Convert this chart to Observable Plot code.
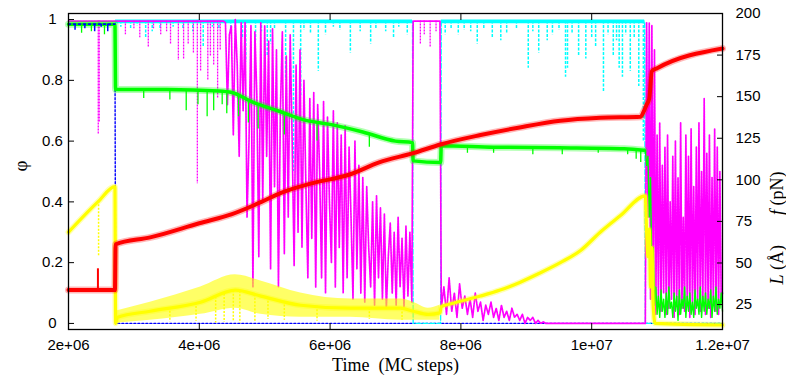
<!DOCTYPE html>
<html>
<head>
<meta charset="utf-8">
<script src="https://cdn.jsdelivr.net/npm/d3@7"></script>
<script src="https://cdn.jsdelivr.net/npm/@observablehq/plot@0.6"></script>
<style>
  html, body { margin: 0; padding: 0; background: #fff; }
</style>
</head>
<body>
<div id="chart"></div>
<script>
// Time is given in units of 1e6 MC steps.
// φ series use the left axis; L (Å) and f (pN) use the right axis.

// ---- axis ticks ----
const xTicks = [2e6, 4e6, 6e6, 8e6, 1e7, 1.2e7];
const xTickLabels = ["2e+06", "4e+06", "6e+06", "8e+06", "1e+07", "1.2e+07"];
const phiTicks = [0, 0.2, 0.4, 0.6, 0.8, 1];
const rightTicks = [25, 50, 75, 100, 125, 150, 175, 200];

// ---- L (Å), red ----
const redT = [2.0, 2.71, 2.72, 3.25, 4.0, 4.5, 4.95, 5.25, 5.7, 6.3, 6.75, 7.27, 7.7, 8.3, 8.9, 9.52, 10.13, 10.75, 10.80, 10.84, 10.88, 10.92, 11.0, 12.0];
const redL = [33.7, 33.7, 61.2, 65.4, 73.9, 79.4, 86.7, 92.2, 97.7, 103.2, 110.5, 116.0, 121.4, 126.9, 131.5, 135.5, 137.3, 137.9, 141.5, 145.2, 148.8, 165.3, 167.1, 179.0];
const redSpikeT = [2.45];
const redSpikeL = [46.5];

// ---- f (pN), yellow ----
const yellowT = [2.0, 2.45, 2.71, 2.72, 2.75, 3.25, 4.02, 4.55, 4.94, 5.55, 6.31, 7.08, 7.27, 7.5, 7.68, 7.70, 7.85, 8.3, 8.6, 8.9, 9.2, 9.52, 9.83, 10.13, 10.44, 10.82, 10.84, 10.86, 10.88, 10.90, 10.92, 10.94, 10.97, 12.0];
const yellowF = [68.5, 86.7, 95.9, 13.7, 17.3, 21.0, 26.4, 33.7, 30.1, 24.6, 22.8, 22.8, 21.0, 19.1, 20.0, 23.7, 25.5, 30.1, 33.7, 38.3, 43.8, 50.2, 57.5, 68.5, 78.5, 90.4, 68.5, 53.8, 70.3, 35.6, 59.3, 24.6, 13.7, 12.7];
// spread of the noisy stretch
const yellowBandT = [2.72, 3.25, 4.02, 4.55, 4.94, 5.55, 6.31, 7.08, 7.27, 7.5, 7.68];
const yellowBandLo = [13.7, 15.5, 19.1, 22.8, 19.1, 17.3, 17.3, 15.5, 15.5, 15.5, 15.5];
const yellowBandHi = [21.0, 26.4, 35.6, 42.9, 39.2, 31.9, 28.3, 28.3, 26.4, 22.8, 24.6];
const yellowSpikeT = [2.46, 3.55, 3.95, 4.25, 4.38, 4.52, 4.62, 4.85, 5.05, 5.3, 5.8, 6.6, 7.1];
const yellowSpikeF = [53.8, 14.5, 15.0, 13.9, 14.2, 15.0, 13.8, 14.5, 16.0, 15.5, 15.0, 16.0, 15.5];

// ---- φ, green ----
const greenT = [2.0, 2.71, 2.72, 3.5, 4.3, 4.5, 4.8, 5.2, 5.6, 6.0, 6.5, 7.0, 7.26, 7.27, 7.69, 7.70, 8.5, 9.5, 10.5, 10.80];
const greenPhi = [0.985, 0.985, 0.77, 0.77, 0.765, 0.76, 0.73, 0.70, 0.67, 0.655, 0.63, 0.60, 0.595, 0.535, 0.53, 0.585, 0.58, 0.578, 0.575, 0.57];
const greenSpikeT = [2.2, 2.35, 2.55, 3.15, 3.55, 3.80, 3.98, 4.12, 4.22, 4.35, 4.42, 4.6, 4.75, 4.9, 5.3, 5.8, 6.6, 8.1, 8.5, 9.1, 9.55, 10.1, 10.55, 10.68, 10.75];
const greenSpikePhi = [0.955, 0.96, 0.95, 0.74, 0.735, 0.70, 0.72, 0.68, 0.70, 0.72, 0.69, 0.68, 0.66, 0.64, 0.62, 0.60, 0.58, 0.56, 0.56, 0.555, 0.555, 0.56, 0.555, 0.54, 0.53];
// after t = 1.082e7, sampled every 0.02e6
const greenTail = [
  0.57, 0.52, 0.55, 0.35, 0.48, 0.15, 0.25, 0.06, 0.12, 0.03,
  0.09, 0.02, 0.11, 0.04, 0.08, 0.02, 0.10, 0.03, 0.12, 0.05,
  0.07, 0.02, 0.10, 0.04, 0.09, 0.01, 0.11, 0.03, 0.08, 0.05,
  0.12, 0.02, 0.09, 0.04, 0.10, 0.03, 0.07, 0.02, 0.11, 0.05,
  0.08, 0.03, 0.12, 0.02, 0.09, 0.04, 0.10, 0.03, 0.08, 0.05,
  0.11, 0.02, 0.09, 0.04, 0.12, 0.03, 0.08, 0.05, 0.10, 0.04];

// ---- φ, cyan ----
const cyanT = [2.72, 7.26, 7.27, 7.69, 7.70, 10.81, 10.82, 12.0];
const cyanPhi = [0.995, 0.995, 0.0, 0.0, 0.995, 0.995, 0.0, 0.0];
const cyanSpikeT = [
  2.8, 2.95, 3.05, 3.18, 3.28, 3.4, 3.6, 3.75, 3.9, 4.06, 4.2, 4.3, 4.48, 4.55, 4.66, 4.71, 4.86, 4.95,
  5.04, 5.09, 5.15, 5.32, 5.44, 5.55, 5.6, 5.7, 5.82, 5.93, 6.05, 6.15, 6.31, 6.46, 6.62, 6.7, 6.85,
  6.97, 7.05, 7.18, 7.76, 7.85, 7.96, 8.05, 8.15, 8.25, 8.35, 8.48, 8.61, 8.7, 8.85, 9.03, 9.1, 9.19,
  9.32, 9.4, 9.5, 9.60, 9.63, 9.7, 9.80, 9.91, 10.0, 10.06, 10.18, 10.25, 10.33, 10.38, 10.42, 10.47,
  10.52, 10.59, 10.65, 10.72, 10.79];
const cyanSpikePhi = [
  0.975, 0.97, 0.98, 0.94, 0.96, 0.965, 0.975, 0.97, 0.96, 0.91, 0.975, 0.965, 0.96, 0.97, 0.94, 0.86, 0.93, 0.96,
  0.88, 0.92, 0.97, 0.80, 0.50, 0.75, 0.965, 0.955, 0.83, 0.95, 0.975, 0.965, 0.89, 0.96, 0.92, 0.97, 0.96,
  0.94, 0.975, 0.95, 0.95, 0.97, 0.95, 0.965, 0.96, 0.92, 0.97, 0.94, 0.93, 0.955, 0.97, 0.84, 0.96, 0.89,
  0.93, 0.95, 0.965, 0.81, 0.84, 0.955, 0.88, 0.87, 0.94, 0.91, 0.76, 0.95, 0.88, 0.93, 0.84, 0.81,
  0.95, 0.83, 0.94, 0.78, 0.60];

// ---- φ, blue ----
const blueT = [2.0, 2.71, 2.72, 12.0];
const bluePhi = [0.985, 0.985, 0.0, 0.0];
const blueSpikeT = [2.1, 2.25, 2.4, 2.5, 2.6];
const blueSpikePhi = [0.965, 0.97, 0.96, 0.975, 0.96];

// ---- φ, magenta ----
const magHeadT = [2.0, 4.37];
const magHeadPhi = [0.995, 0.995];
// 4.40 … 7.25, every 0.03e6
const magBurst = [
  0.99, 0.72, 0.95, 0.98, 0.62, 1.0, 0.85, 0.55, 0.99, 0.70,
  0.99, 0.35, 0.60, 0.98, 0.12, 0.96, 0.75, 0.22, 0.99, 0.40,
  0.98, 0.55, 0.93, 0.18, 0.97, 0.45, 0.90, 0.12, 0.70, 0.96,
  0.23, 0.88, 0.35, 0.95, 0.60, 0.19, 0.85, 0.30, 0.90, 0.25,
  0.80, 0.45, 0.15, 0.74, 0.28, 0.76, 0.12, 0.72, 0.50, 0.15,
  0.73, 0.10, 0.68, 0.40, 0.20, 0.70, 0.12, 0.66, 0.25, 0.62,
  0.10, 0.65, 0.15, 0.58, 0.35, 0.08, 0.60, 0.18, 0.52, 0.10,
  0.48, 0.07, 0.45, 0.25, 0.12, 0.40, 0.06, 0.42, 0.15, 0.38,
  0.08, 0.36, 0.05, 0.22, 0.33, 0.10, 0.30, 0.06, 0.35, 0.12,
  0.28, 0.05, 0.32, 0.09, 0.30, 0.07];
const magHoldT = [7.27, 7.68];
const magHoldPhi = [0.995, 0.995];
// 7.70 … 9.26, every 0.04e6
const magDecay = [
  0.05, 0.12, 0.03, 0.15, 0.04, 0.10, 0.02, 0.13, 0.05, 0.09,
  0.03, 0.08, 0.02, 0.10, 0.04, 0.07, 0.01, 0.06, 0.03, 0.07,
  0.02, 0.05, 0.01, 0.06, 0.02, 0.04, 0.01, 0.05, 0.02, 0.03,
  0.01, 0.03, 0.0, 0.02, 0.01, 0.02, 0.0, 0.01, 0.0, 0.005];
const magRestT = [9.30, 10.82];
const magRestPhi = [0.0, 0.0];
// 10.84 … 11.98, every 0.02e6
const magLate = [
  0.99, 0.35, 0.99, 0.08, 0.98, 0.04, 0.90, 0.03, 0.62, 0.06,
  0.66, 0.04, 0.52, 0.10, 0.58, 0.03, 0.62, 0.05, 0.40, 0.08,
  0.55, 0.02, 0.60, 0.06, 0.48, 0.03, 0.66, 0.05, 0.35, 0.04,
  0.62, 0.07, 0.55, 0.02, 0.64, 0.05, 0.45, 0.03, 0.58, 0.06,
  0.66, 0.04, 0.50, 0.08, 0.74, 0.03, 0.56, 0.05, 0.62, 0.02,
  0.48, 0.06, 0.64, 0.04, 0.58, 0.03, 0.50, 0.08];
const magEndT = [12.0];
const magEndPhi = [0.10];
const magDipT = [2.455, 2.47, 2.87, 3.0, 3.09, 3.22, 3.3, 3.41, 3.5, 3.56, 3.68, 3.76, 3.83, 3.91, 3.97, 4.02, 4.13, 4.17, 4.22, 4.28, 4.32, 7.38, 7.44, 7.53, 7.62];
const magDipPhi = [0.62, 0.66, 0.95, 0.97, 0.94, 0.91, 0.97, 0.95, 0.96, 0.92, 0.865, 0.87, 0.92, 0.89, 0.46, 0.83, 0.80, 0.88, 0.85, 0.74, 0.90, 0.92, 0.95, 0.91, 0.96];

// ---------------------------------------------------------------
const M = 1e6;
const rows = (T, V) => T.map((t, i) => ({t: t * M, v: V[i]}));
const grid = (t0, dt, V) => V.map((v, i) => ({t: (t0 + i * dt) * M, v}));
const toPhi = d3.scaleLinear().domain([10, 200]).range([-0.02, 1.02]); // right axis -> left axis
const lerp = (T, V) => d3.scaleLinear().domain(T).range(V);

const red = rows(redT, redL).map(d => ({t: d.t, v: toPhi(d.v)}));
const redAt = lerp(redT, redL);
const redSpikes = redSpikeT.map((t, i) => ({t: t * M, a: toPhi(redAt(t)), b: toPhi(redSpikeL[i])}));

const yellow = rows(yellowT, yellowF).map(d => ({t: d.t, v: toPhi(d.v)}));
const yellowBand = yellowBandT.map((t, i) => ({t: t * M, lo: toPhi(yellowBandLo[i]), hi: toPhi(yellowBandHi[i])}));
const yellowAt = lerp(yellowT, yellowF);
const yellowSpikes = yellowSpikeT.map((t, i) => ({t: t * M, a: toPhi(yellowAt(t)), b: toPhi(yellowSpikeF[i])}));

const green = rows(greenT, greenPhi);
const greenAt = lerp(greenT, greenPhi);
const greenSpikes = greenSpikeT.map((t, i) => ({t: t * M, a: greenAt(t), b: greenSpikePhi[i]}));
const greenEnd = grid(10.82, 0.02, greenTail);

const cyan = rows(cyanT, cyanPhi);
let seg = 0;
const cyanTop = cyan.map((d, i) => {
  if (i > 0 && cyanPhi[i] !== cyanPhi[i - 1]) seg++;
  return {...d, seg};
}).filter(d => d.v > 0.5);
const cyanSpikes = cyanSpikeT.map((t, i) => ({t: t * M, a: 0.995, b: cyanSpikePhi[i]}));

const blue = rows(blueT, bluePhi);
const blueSpikes = blueSpikeT.map((t, i) => ({t: t * M, a: 0.985, b: blueSpikePhi[i]}));

const magenta = [
  ...rows(magHeadT, magHeadPhi),
  ...grid(4.40, 0.03, magBurst),
  ...rows(magHoldT, magHoldPhi),
  ...grid(7.70, 0.04, magDecay),
  ...rows(magRestT, magRestPhi),
  ...grid(10.84, 0.02, magLate),
  ...rows(magEndT, magEndPhi)
];
const magDips = magDipT.map((t, i) => ({t: t * M, a: 0.995, b: magDipPhi[i]}));

const C = {red: "#ff0000", green: "#00ff00", cyan: "#00ffff", magenta: "#ff00ff", yellow: "#ffff00", blue: "#0000ff"};
const spikes = (data, stroke, opts = {}) => Plot.ruleX(data, {x: "t", y1: "a", y2: "b", stroke, strokeWidth: 1.4, ...opts});
const serif = "Liberation Serif, Times New Roman, serif";
const rightLabel = "L (Å) f (pN)";

const chart = Plot.plot({
  width: 786,
  height: 383,
  marginLeft: 68,
  marginRight: 64,
  marginTop: 13,
  marginBottom: 54,
  style: {fontFamily: "Liberation Sans, Arial, sans-serif", fontSize: "15px", background: "#fff", color: "#000"},
  x: {type: "linear", domain: [2e6, 1.2e7]},
  y: {domain: [-0.02, 1.02]},
  marks: [
    // blue
    Plot.line(blue, {x: "t", y: "v", stroke: C.blue, strokeWidth: 1.4, strokeDasharray: "2,2"}),
    // cyan
    Plot.areaY(cyanTop, {x: "t", y1: d => d.v - 0.009, y2: d => d.v + 0.004, z: "seg", fill: C.cyan}),
    Plot.line(cyan, {x: "t", y: "v", stroke: C.cyan, strokeWidth: 1.3, strokeDasharray: "5,2"}),
    spikes(cyanSpikes, C.cyan, {strokeWidth: 1.5, strokeDasharray: "3,1.5"}),
    // magenta
    Plot.line(magenta, {x: "t", y: "v", stroke: C.magenta, strokeWidth: 1.7, strokeDasharray: "2,0.8"}),
    spikes(magDips, C.magenta, {strokeWidth: 1.3, strokeDasharray: "2,1"}),
    // green
    Plot.line(green, {x: "t", y: "v", stroke: C.green, strokeWidth: 7, strokeOpacity: 0.3, curve: "monotone-x"}),
    Plot.line(green, {x: "t", y: "v", stroke: C.green, strokeWidth: 3.5, curve: "monotone-x"}),
    spikes(greenSpikes, C.green, {strokeWidth: 1.3}),
    Plot.line(greenEnd, {x: "t", y: "v", stroke: C.green, strokeWidth: 1.4}),
    // blue noise at the top
    Plot.line(blue.slice(0, 2), {x: "t", y: "v", stroke: C.blue, strokeWidth: 1.6, strokeDasharray: "2,3"}),
    spikes(blueSpikes, C.blue, {strokeWidth: 1.5}),
    // yellow
    Plot.areaY(yellowBand, {x: "t", y1: "lo", y2: "hi", fill: C.yellow, fillOpacity: 0.6, curve: "monotone-x"}),
    Plot.line(yellow, {x: "t", y: "v", stroke: C.yellow, strokeWidth: 6, strokeOpacity: 0.3, curve: "monotone-x"}),
    Plot.line(yellow, {x: "t", y: "v", stroke: C.yellow, strokeWidth: 3.2, curve: "monotone-x"}),
    spikes(yellowSpikes, C.yellow, {strokeWidth: 1.5, strokeDasharray: "2,1.5"}),
    // red
    Plot.line(red, {x: "t", y: "v", stroke: C.red, strokeWidth: 7, strokeOpacity: 0.28, curve: "monotone-x"}),
    Plot.line(red, {x: "t", y: "v", stroke: C.red, strokeWidth: 4, curve: "monotone-x"}),
    spikes(redSpikes, C.red, {strokeWidth: 2}),
    // frame and axes
    Plot.frame({stroke: "#000", strokeWidth: 1.3}),
    Plot.axisX({anchor: "bottom", ticks: xTicks, tickSize: -6, tickFormat: () => "", label: null}),
    Plot.axisX({anchor: "top", ticks: xTicks, tickSize: -6, tickFormat: () => "", label: null}),
    Plot.axisX({anchor: "bottom", ticks: xTicks, tickSize: 0, tickPadding: 10, tickFormat: d => xTickLabels[xTicks.indexOf(d)], label: null}),
    Plot.axisY({anchor: "left", ticks: phiTicks, tickSize: -6, tickFormat: () => "", label: null}),
    Plot.axisY({anchor: "left", ticks: phiTicks, tickSize: 0, tickPadding: 16, textAnchor: "middle", tickFormat: d => String(d), label: null}),
    Plot.axisY({anchor: "right", ticks: rightTicks.map(toPhi), tickSize: -6, tickFormat: () => "", label: null}),
    Plot.axisY({anchor: "right", ticks: rightTicks.map(toPhi), tickSize: 0, tickPadding: 13, tickFormat: d => String(Math.round(toPhi.invert(d))), label: null}),
    // axis titles
    Plot.text(["Time\u00a0 (MC steps)"], {frameAnchor: "bottom", dy: 41, fontFamily: serif, fontSize: 18}),
    Plot.text(["φ"], {frameAnchor: "left", dx: -48, rotate: -90, fontFamily: serif, fontSize: 19}),
    Plot.text([rightLabel], {frameAnchor: "right", dx: 55, rotate: -90, fontFamily: serif, fontSize: 18})
  ]
});

// italic symbols in the right-hand axis title
d3.select(chart).selectAll("text").filter(function () { return this.textContent === rightLabel; })
  .each(function () {
    const t = d3.select(this).text(null);
    t.append("tspan").attr("font-style", "italic").text("L");
    t.append("tspan").text("\u00a0(Å)");
    t.append("tspan").attr("dx", 30).attr("font-style", "italic").text("f");
    t.append("tspan").text("\u00a0(pN)");
  });

document.getElementById("chart").appendChild(chart);
</script>
</body>
</html>
